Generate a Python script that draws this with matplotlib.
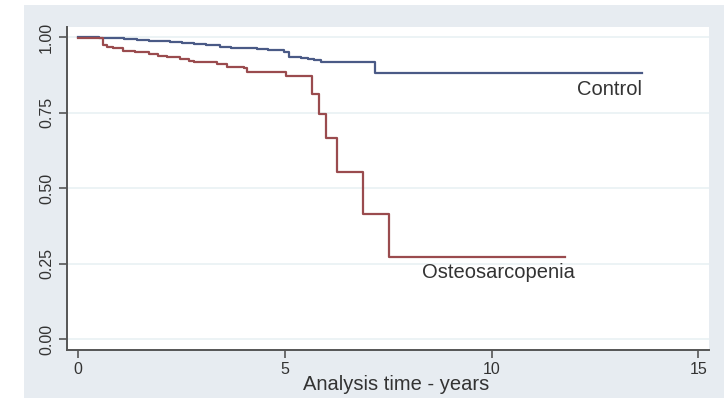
import matplotlib
matplotlib.use("Agg")
import matplotlib.pyplot as plt

# Kaplan-Meier step curves (time in years, survival)
control_t = [0.0, 0.5, 0.85, 1.1, 1.42, 1.7, 2.0, 2.23, 2.5, 2.79, 3.1, 3.44, 3.7, 4.0, 4.33,
             4.6, 4.98, 5.1, 5.38, 5.55, 5.7, 5.87, 7.18, 13.65]
control_s = [1.0, 0.998, 0.996, 0.994, 0.991, 0.988, 0.986, 0.983, 0.981, 0.978, 0.975, 0.969,
             0.966, 0.963, 0.960, 0.957, 0.952, 0.936, 0.930, 0.927, 0.925, 0.917, 0.883, 0.883]

osteo_t = [0.0, 0.59, 0.69, 0.85, 1.09, 1.38, 1.70, 1.94, 2.15, 2.47, 2.67, 2.79, 3.36, 3.60,
           4.00, 4.09, 5.02, 5.66, 5.83, 5.99, 6.25, 6.88, 7.51, 11.77]
osteo_s = [0.997, 0.974, 0.969, 0.963, 0.956, 0.950, 0.945, 0.938, 0.934, 0.927, 0.921, 0.917,
           0.911, 0.903, 0.897, 0.885, 0.873, 0.812, 0.746, 0.666, 0.553, 0.415, 0.274, 0.274]

x_ticks = [0, 5, 10, 15]
y_ticks = [0.00, 0.25, 0.50, 0.75, 1.00]
y_ticklabels = ["0.00", "0.25", "0.50", "0.75", "1.00"]

plt.rcParams['font.family'] = ['Liberation Sans', 'DejaVu Sans']

W, H = 724, 398
fig = plt.figure(figsize=(W / 100, H / 100), dpi=100)
fig.patch.set_facecolor("white")
# outer light panel
bgax = fig.add_axes([24 / W, 0, 1 - 24 / W, 1 - 5 / H], zorder=-5)
bgax.set_axis_off()
bgax.add_patch(plt.Rectangle((0, 0), 1, 1, transform=bgax.transAxes,
                             facecolor="#e7ecf1", edgecolor="none"))

left, right, top, bottom = 66.7, 709, 27, 350
ax = fig.add_axes([left / W, 1 - bottom / H, (right - left) / W, (bottom - top) / H], zorder=1)
ax.set_facecolor("white")

ax.step(control_t, control_s, where="post", color="#4a5a86", lw=1.6, zorder=3)
ax.step(osteo_t, osteo_s, where="post", color="#9a4b4e", lw=1.6, zorder=3)

ax.set_xlim(-0.28, 15.26)
ax.set_ylim(-0.0355, 1.034)

ax.set_xticks(x_ticks)
ax.set_yticks(y_ticks)
ax.set_yticklabels(y_ticklabels, rotation=90, va="center")
ax.tick_params(axis="both", direction="out", length=6, width=1.2, color="#555555",
               labelsize=11.5, labelcolor="#333333")
ax.tick_params(axis="x", pad=3)
ax.tick_params(axis="y", pad=3)

ax.grid(axis="y", color="#e9f1f4", lw=1.2, zorder=1)
ax.grid(axis="x", visible=False)

for s in ["top", "right"]:
    ax.spines[s].set_visible(False)
for s in ["left", "bottom"]:
    ax.spines[s].set_color("#555555")
    ax.spines[s].set_linewidth(1.4)

ax.text(13.65, 0.828, "Control", ha="right", va="center", fontsize=14.5, color="#333333")
ax.text(10.17, 0.22, "Osteosarcopenia", ha="center", va="center", fontsize=14.5, color="#333333")

ax.set_xlabel("Analysis time - years", fontsize=14.5, color="#333333")
ax.xaxis.set_label_coords((396 - left) / (right - left), -(385 - bottom) / (bottom - top))
ax.xaxis.label.set_va("center")

fig.savefig("out.png", dpi=100, facecolor=fig.get_facecolor())
